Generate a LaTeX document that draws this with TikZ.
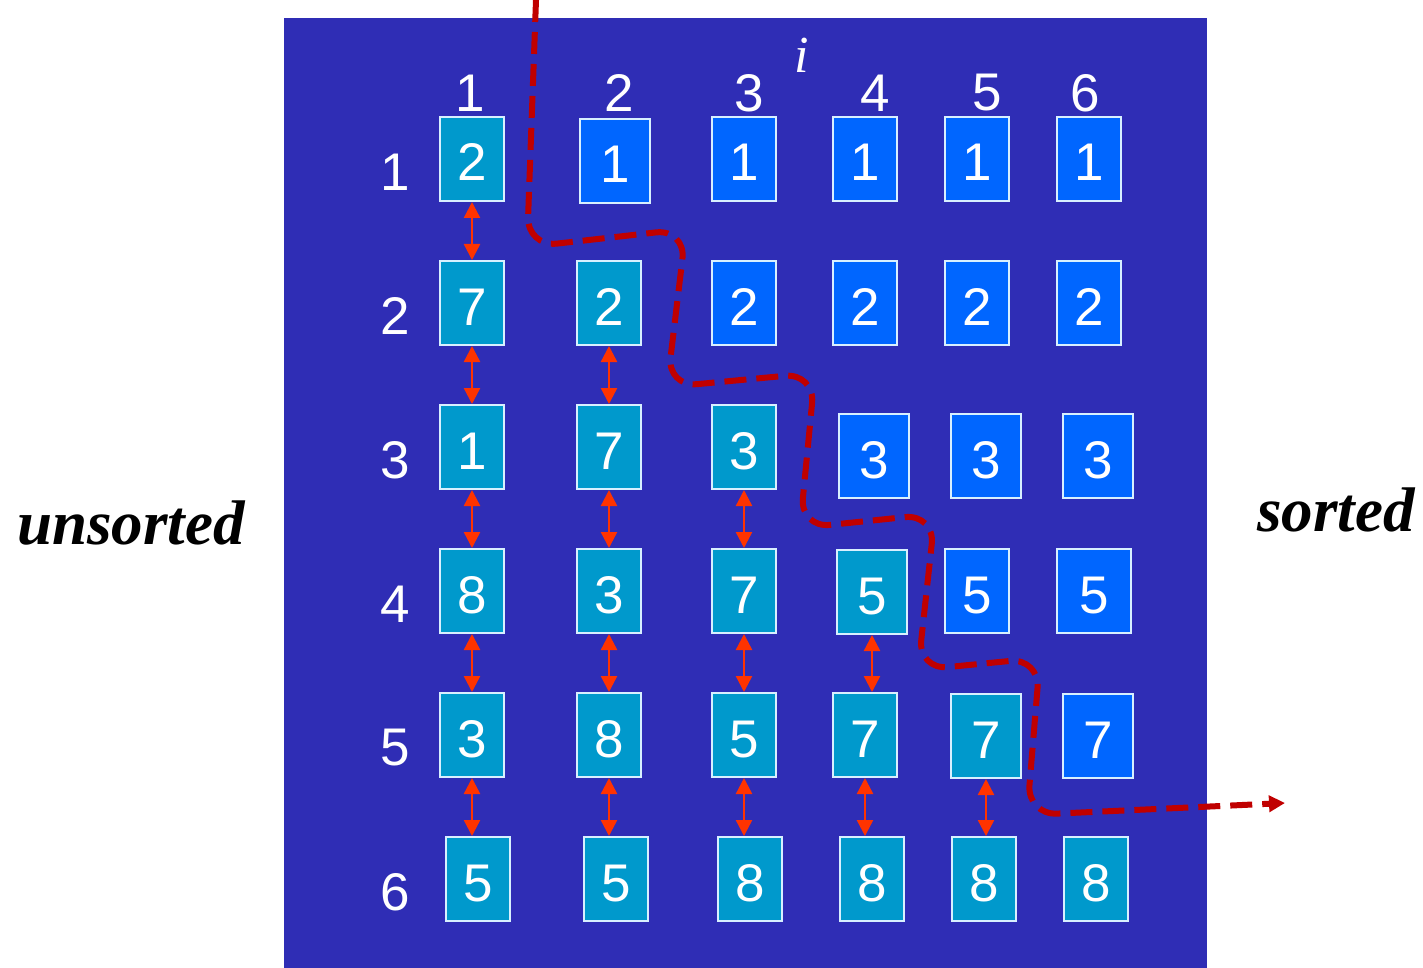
\documentclass[tikz,border=0pt]{standalone}
\usepackage{fontspec}
\setmainfont{Liberation Sans}
\newfontfamily\timesfont{Liberation Serif}
\usetikzlibrary{arrows.meta}
\definecolor{bgblue}{HTML}{2F2DB5}
\definecolor{openbox}{HTML}{0099CC}
\definecolor{sortbox}{HTML}{0066FF}
\definecolor{boxline}{HTML}{D8F0FF}
\definecolor{swapred}{HTML}{FF3300}
\definecolor{cutred}{HTML}{C00000}

\tikzset{
  cell/.style={draw=boxline, line width=1pt, text=white, minimum width=32pt,
    minimum height=42pt, inner sep=0pt, text height=22pt, text depth=0pt,
    font=\fontsize{26.5}{28}\selectfont},
  todocell/.style={cell, fill=openbox},
  donecell/.style={cell, fill=sortbox},
  wide/.style={minimum width=35pt},
  idx/.style={text=white, inner sep=0pt, font=\fontsize{26.5}{28}\selectfont},
  swaparrow/.style={swapred, line width=1.2pt,
    {Triangle[length=8pt,width=8pt]}-{Triangle[length=8pt,width=8pt]}},
  cutline/.style={cutred, line width=3pt, dash pattern=on 11pt off 5pt,
    rounded corners=15pt, -{Triangle[length=8pt,width=8pt]}},
  side/.style={font=\timesfont\bfseries\itshape\fontsize{31.5}{33}\selectfont}
}

\begin{document}
\begin{tikzpicture}[x=0.5pt, y=-0.5pt]
\useasboundingbox (0,0) rectangle (1423,968);
% Background panel
\fill[bgblue] (284,18) rectangle (1207,968);

% Index labels
\node[idx, font=\timesfont\itshape\fontsize{26}{28}\selectfont] (iname) at (802,55) {i};
\foreach \x/\t in {470/1, 619/2, 749/3, 875/4, 987/5, 1085/6} {
    \node[idx] (h\t) at (\x,93) {\t};
}
\foreach \y/\t in {172/1, 316/2, 460/3, 604/4, 748/5, 892/6} {
    \node[idx] (r\t) at (395,\y) {\t};
}

% Row 1
\node[todocell] (b11) at (472,159) {2};
\node[donecell, wide] (b12) at (615,161) {1};
\node[donecell] (b13) at (744,159) {1};
\node[donecell] (b14) at (865,159) {1};
\node[donecell] (b15) at (977,159) {1};
\node[donecell] (b16) at (1089,159) {1};
% Row 2
\node[todocell] (b21) at (472,303) {7};
\node[todocell] (b22) at (609,303) {2};
\node[donecell] (b23) at (744,303) {2};
\node[donecell] (b24) at (865,303) {2};
\node[donecell] (b25) at (977,303) {2};
\node[donecell] (b26) at (1089,303) {2};
% Row 3
\node[todocell] (b31) at (472,447) {1};
\node[todocell] (b32) at (609,447) {7};
\node[todocell] (b33) at (744,447) {3};
\node[donecell, wide] (b34) at (874,456) {3};
\node[donecell, wide] (b35) at (986,456) {3};
\node[donecell, wide] (b36) at (1098,456) {3};
% Row 4
\node[todocell] (b41) at (472,591) {8};
\node[todocell] (b42) at (609,591) {3};
\node[todocell] (b43) at (744,591) {7};
\node[todocell, wide] (b44) at (872,592) {5};
\node[donecell] (b45) at (977,591) {5};
\node[donecell, minimum width=37pt] (b46) at (1094,591) {5};
% Row 5
\node[todocell] (b51) at (472,735) {3};
\node[todocell] (b52) at (609,735) {8};
\node[todocell] (b53) at (744,735) {5};
\node[todocell] (b54) at (865,735) {7};
\node[todocell, wide] (b55) at (986,736) {7};
\node[donecell, wide] (b56) at (1098,736) {7};
% Row 6
\node[todocell] (b61) at (478,879) {5};
\node[todocell] (b62) at (616,879) {5};
\node[todocell] (b63) at (750,879) {8};
\node[todocell] (b64) at (872,879) {8};
\node[todocell] (b65) at (984,879) {8};
\node[todocell] (b66) at (1096,879) {8};

% Swaps (column/row/next row)
\foreach \c/\r/\n in {1/1/2, 1/2/3, 1/3/4, 1/4/5, 1/5/6,
                      2/2/3, 2/3/4, 2/4/5, 2/5/6,
                      3/3/4, 3/4/5, 3/5/6,
                      4/4/5, 4/5/6, 5/5/6} {
    \draw[swaparrow] (b\r\c.south) -- (b\r\c.south |- b\n\c.north);
}

% Boundary between unsorted and sorted part
\coordinate (cutstart) at (536,0);
\coordinate (cutend) at (1285,803);
\draw[cutline] (cutstart) -- (527,247) -- (686,229) -- (667,387) -- (815,373)
  -- (800,528) -- (935,514) -- (918,670) -- (1040,658) -- (1027,815) -- (cutend);

\node[side] (unsorted) at (131,523) {unsorted};
\node[side] (sorted) at (1336,510) {sorted};
\end{tikzpicture}
\end{document}
